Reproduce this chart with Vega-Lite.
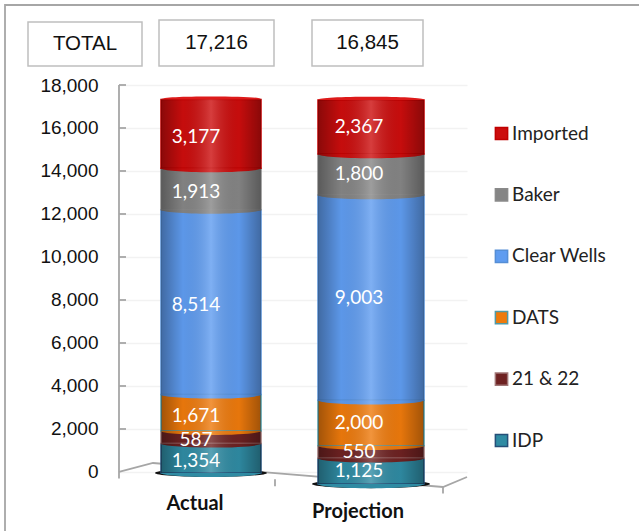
{"$schema":"https://vega.github.io/schema/vega-lite/v6.json","width":348,"height":435,"padding":{"left":119,"top":85,"right":172,"bottom":11},"autosize":"none","background":"white","config":{"view":{"stroke":null}},
"datasets":{"bars":[
{"cat":"Actual","series":"IDP","v":1354,"ord":1},{"cat":"Actual","series":"21 & 22","v":587,"ord":2},{"cat":"Actual","series":"DATS","v":1671,"ord":3},{"cat":"Actual","series":"Clear Wells","v":8514,"ord":4},{"cat":"Actual","series":"Baker","v":1913,"ord":5},{"cat":"Actual","series":"Imported","v":3177,"ord":6},
{"cat":"Projection","series":"IDP","v":1125,"ord":1},{"cat":"Projection","series":"21 & 22","v":550,"ord":2},{"cat":"Projection","series":"DATS","v":2000,"ord":3},{"cat":"Projection","series":"Clear Wells","v":9003,"ord":4},{"cat":"Projection","series":"Baker","v":1800,"ord":5},{"cat":"Projection","series":"Imported","v":2367,"ord":6}],
"frame":[
{"part":"axis","fx":0,"fy":0},{"part":"axis","fx":0,"fy":18000},
{"part":"floor","fx":34,"fy":419},{"part":"floor","fx":0,"fy":0},{"part":"floor","fx":324,"fy":-698},{"part":"floor","fx":348,"fy":-233},
{"part":"t1","fx":0,"fy":0},{"part":"t1","fx":0,"fy":-300},{"part":"t2","fx":156,"fy":-340},{"part":"t2","fx":156,"fy":-660},{"part":"t3","fx":324,"fy":-698},{"part":"t3","fx":324,"fy":-1000},
{"part":"y2","fx":0,"fy":2000},{"part":"y2","fx":7,"fy":2000},{"part":"y4","fx":0,"fy":4000},{"part":"y4","fx":7,"fy":4000},{"part":"y6","fx":0,"fy":6000},{"part":"y6","fx":7,"fy":6000},{"part":"y8","fx":0,"fy":8000},{"part":"y8","fx":7,"fy":8000},{"part":"y10","fx":0,"fy":10000},{"part":"y10","fx":7,"fy":10000},{"part":"y12","fx":0,"fy":12000},{"part":"y12","fx":7,"fy":12000},{"part":"y14","fx":0,"fy":14000},{"part":"y14","fx":7,"fy":14000},{"part":"y16","fx":0,"fy":16000},{"part":"y16","fx":7,"fy":16000},{"part":"y18","fx":0,"fy":18000},{"part":"y18","fx":7,"fy":18000},
{"part":"border","fx":-114,"fy":-2744},{"part":"border","fx":-114,"fy":21721},{"part":"border","fx":520,"fy":21721}],
"boxes":[{"label":"TOTAL","l":-91,"r":23,"t":20930,"b":18884},{"label":"17,216","l":40,"r":155,"t":21023,"b":18884},{"label":"16,845","l":193,"r":304,"t":21023,"b":18884}]},
"layer":[
{"layer":[
{"data":{"name":"boxes"},"mark":{"type":"rect","fill":"white","stroke":"#bfbfbf","strokeWidth":1.5,"clip":false},
 "encoding":{"x":{"field":"l","type":"quantitative"},"x2":{"field":"r"},"y":{"field":"t","type":"quantitative"},"y2":{"field":"b"}}},
{"data":{"name":"boxes"},"transform":[{"calculate":"(datum.l+datum.r)/2","as":"mx"},{"calculate":"(datum.t+datum.b)/2","as":"my"}],"mark":{"type":"text","font":"Liberation Sans","fontSize":20.5,"color":"#111"},
 "encoding":{"x":{"field":"mx","type":"quantitative"},"y":{"field":"my","type":"quantitative"},"text":{"field":"label"}}},
{"data":{"name":"frame"},"mark":{"type":"line","color":"#a6a6a6","strokeWidth":1.8,"clip":false},
 "encoding":{"x":{"field":"fx","type":"quantitative"},"y":{"field":"fy","type":"quantitative"},"detail":{"field":"part"}}}
],
"encoding":{"x":{"type":"quantitative","scale":{"domain":[0,348],"nice":false,"zero":false},"axis":null},
 "y":{"type":"quantitative","scale":{"domain":[-2233,18000],"nice":false,"zero":false},"axis":{"values":[0,2000,4000,6000,8000,10000,12000,14000,16000,18000],"labelExpr":"format(datum.value,',')","domain":false,"ticks":false,"labelPadding":21,"labelFont":"Liberation Sans","labelFontSize":19,"labelColor":"#111","title":null,"grid":true,"gridColor":"#f2f2f2","gridWidth":1.5}}}
},
{"layer":[
 {"mark":{"type":"point","filled":true,"color":"#111","opacity":1,"shape":"M-1,0C-1,0.04 -0.55,0.07 0,0.07C0.55,0.07 1,0.04 1,0C1,-0.04 0.55,-0.07 0,-0.07C-0.55,-0.07 -1,-0.04 -1,0Z","size":12544},"transform":[{"filter":"datum.ord==1"}],"encoding":{"x":{"field":"cat","type":"nominal"},"y":{"field":"y0","type":"quantitative"}}},
 {"mark":{"type":"bar","width":100,"strokeWidth":1.5},"encoding":{"x":{"field":"cat"},"y":{"field":"y0","type":"quantitative"},"y2":{"field":"y1"},"fill":{"field":"series"},"stroke":{"field":"series"}}},
 {"mark":{"type":"point","filled":true,"opacity":1,"shape":"M-1,0C-1,0.045 -0.55,0.08 0,0.08C0.55,0.08 1,0.045 1,0Z","size":10000},"encoding":{"x":{"field":"cat"},"y":{"field":"y0","type":"quantitative"},"fill":{"field":"series"}}},
 {"mark":{"type":"point","filled":true,"opacity":1,"fill":"#dd1a1a","stroke":null,"shape":"M-1,0C-1,-0.045 -0.55,-0.06 0,-0.06C0.55,-0.06 1,-0.045 1,0Z","size":10000},"transform":[{"filter":"datum.ord==6"}],"encoding":{"x":{"field":"cat"},"y":{"field":"y1","type":"quantitative"}}},
 {"mark":{"type":"bar","width":100,"fill":{"x1":0,"x2":1,"y1":0,"y2":0,"gradient":"linear","stops":[{"offset":0,"color":"rgba(0,0,0,0.32)"},{"offset":0.22,"color":"rgba(0,0,0,0.03)"},{"offset":0.5,"color":"rgba(255,255,255,0.2)"},{"offset":0.78,"color":"rgba(0,0,0,0.03)"},{"offset":1,"color":"rgba(0,0,0,0.32)"}]}},"encoding":{"x":{"field":"cat"},"y":{"field":"y0","type":"quantitative"},"y2":{"field":"y1"}}},
 {"mark":{"type":"text","font":"Lato","fontSize":19,"color":"white","dx":-15,"dy":3},"encoding":{"x":{"field":"cat"},"y":{"field":"mid","type":"quantitative"},"text":{"field":"v","format":","}}},
 {"mark":{"type":"text","font":"Lato","fontSize":20,"fontWeight":"bold","color":"#111","dx":-16,"clip":false},"transform":[{"filter":"datum.ord==1"}],"encoding":{"x":{"field":"cat"},"y":{"datum":-1442},"text":{"field":"cat"}}}
 ],
 "data":{"name":"bars"},"transform":[{"filter":"datum.cat=='Actual'"},{"stack":"v","groupby":["cat"],"sort":[{"field":"ord","order":"ascending"}],"as":["y0","y1"]},{"calculate":"(datum.y0+datum.y1)/2","as":"mid"}],
 "encoding":{"x":{"field":"cat","type":"nominal","axis":null,"scale":{"type":"band","domain":["Actual","Projection"],"range":[12,332],"paddingInner":0,"paddingOuter":0}},
  "y":{"type":"quantitative","scale":{"domain":[-2166,17880],"nice":false,"zero":false},"axis":null}}
},
{"layer":[
 {"mark":{"type":"point","filled":true,"color":"#111","opacity":1,"shape":"M-1,0C-1,0.04 -0.55,0.07 0,0.07C0.55,0.07 1,0.04 1,0C1,-0.04 0.55,-0.07 0,-0.07C-0.55,-0.07 -1,-0.04 -1,0Z","size":13924},"transform":[{"filter":"datum.ord==1"}],"encoding":{"x":{"field":"cat","type":"nominal"},"y":{"field":"y0","type":"quantitative"}}},
 {"mark":{"type":"bar","width":106,"strokeWidth":1.5},"encoding":{"x":{"field":"cat"},"y":{"field":"y0","type":"quantitative"},"y2":{"field":"y1"},"fill":{"field":"series"},"stroke":{"field":"series"}}},
 {"mark":{"type":"point","filled":true,"opacity":1,"shape":"M-1,0C-1,0.045 -0.55,0.08 0,0.08C0.55,0.08 1,0.045 1,0Z","size":11236},"encoding":{"x":{"field":"cat"},"y":{"field":"y0","type":"quantitative"},"fill":{"field":"series"}}},
 {"mark":{"type":"point","filled":true,"opacity":1,"fill":"#dd1a1a","stroke":null,"shape":"M-1,0C-1,-0.045 -0.55,-0.06 0,-0.06C0.55,-0.06 1,-0.045 1,0Z","size":11236},"transform":[{"filter":"datum.ord==6"}],"encoding":{"x":{"field":"cat"},"y":{"field":"y1","type":"quantitative"}}},
 {"mark":{"type":"bar","width":106,"fill":{"x1":0,"x2":1,"y1":0,"y2":0,"gradient":"linear","stops":[{"offset":0,"color":"rgba(0,0,0,0.32)"},{"offset":0.22,"color":"rgba(0,0,0,0.03)"},{"offset":0.5,"color":"rgba(255,255,255,0.2)"},{"offset":0.78,"color":"rgba(0,0,0,0.03)"},{"offset":1,"color":"rgba(0,0,0,0.32)"}]}},"encoding":{"x":{"field":"cat"},"y":{"field":"y0","type":"quantitative"},"y2":{"field":"y1"}}},
 {"mark":{"type":"text","font":"Lato","fontSize":19,"color":"white","dx":-12},"encoding":{"x":{"field":"cat"},"y":{"field":"mid","type":"quantitative"},"text":{"field":"v","format":","}}},
 {"mark":{"type":"text","font":"Lato","fontSize":20,"fontWeight":"bold","color":"#111","dx":-13,"clip":false},"transform":[{"filter":"datum.ord==1"}],"encoding":{"x":{"field":"cat"},"y":{"datum":-1228},"text":{"field":"cat"}}}
 ],
 "data":{"name":"bars"},"transform":[{"filter":"datum.cat=='Projection'"},{"stack":"v","groupby":["cat"],"sort":[{"field":"ord","order":"ascending"}],"as":["y0","y1"]},{"calculate":"(datum.y0+datum.y1)/2","as":"mid"}],
 "encoding":{"x":{"field":"cat","type":"nominal","axis":null,"scale":{"type":"band","domain":["Actual","Projection"],"range":[12,332],"paddingInner":0,"paddingOuter":0}},
  "y":{"type":"quantitative","scale":{"domain":[-1579,17503],"nice":false,"zero":false},"axis":null}}
}
],
"resolve":{"scale":{"x":"independent","y":"independent","fill":"shared","stroke":"shared"}},
"encoding":{"fill":{"scale":{"domain":["Imported","Baker","Clear Wells","DATS","21 & 22","IDP"],"range":["#cc0d0d","#858585","#5f9cf0","#ee7a0c","#6e2222","#2f8ba3"]},"legend":{"orient":"none","legendX":373,"legendY":39,"title":null,"symbolType":"square","symbolSize":150,"symbolStrokeWidth":1.5,"labelFont":"Lato","labelFontSize":19,"labelColor":"#222","labelOffset":1,"rowPadding":41.4,"labelLimit":200}},
 "stroke":{"scale":{"domain":["Imported","Baker","Clear Wells","DATS","21 & 22","IDP"],"range":["#c00000","#8a8a8a","#558ed5","#4f9aa8","#a07575","#254f78"]},"legend":null}}
}
